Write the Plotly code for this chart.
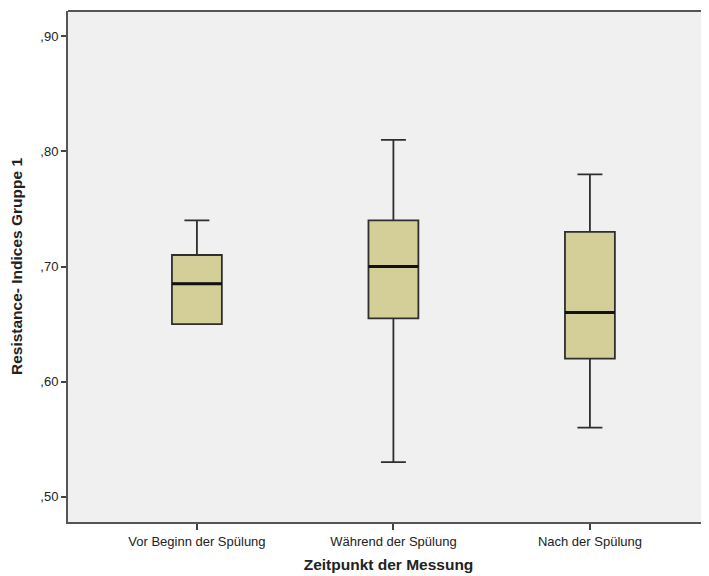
import plotly.graph_objects as go

categories = ["Vor Beginn der Spülung", "Während der Spülung", "Nach der Spülung"]
q1 = [0.65, 0.655, 0.62]
median = [0.685, 0.70, 0.66]
q3 = [0.71, 0.74, 0.73]
lower = [0.65, 0.53, 0.56]
upper = [0.74, 0.81, 0.78]
ytick_vals = [0.50, 0.60, 0.70, 0.80, 0.90]
ytick_text = [",50", ",60", ",70", ",80", ",90"]

xpos = list(range(len(categories)))
fig = go.Figure()
fig.add_trace(go.Box(
    x=xpos, q1=q1, median=median, q3=q3, lowerfence=lower, upperfence=upper,
    width=0.254, whiskerwidth=0.5,
    fillcolor="#d4cf99", line=dict(color="#2e2e2e", width=1.8),
    boxpoints=False, hoverinfo="skip", showlegend=False,
))
hw = 0.127
for i, m in enumerate(median):
    fig.add_trace(go.Scatter(
        x=[xpos[i] - hw, xpos[i] + hw], y=[m, m], mode="lines",
        line=dict(color="#111111", width=3), showlegend=False, hoverinfo="skip",
    ))

# top border of the plot frame
fig.add_shape(type="line", xref="paper", yref="paper", x0=0, x1=1, y0=1, y1=1,
              line=dict(color="#555555", width=2))

# page body has an 8px default margin, so the figure is sized to end at the window edge
fig.update_layout(
    width=701, height=568,
    margin=dict(l=60, r=0, t=3, b=54, autoexpand=False),
    paper_bgcolor="white", plot_bgcolor="#f0f0f0",
    font=dict(family="Liberation Sans, Arial, sans-serif", size=13, color="#222222"),
)
fig.update_xaxes(
    range=[-0.656, 2.606], tickvals=xpos, ticktext=categories,
    showline=True, linecolor="#555555", linewidth=2,
    ticks="outside", ticklen=6, tickwidth=1.5, tickcolor="#444444",
    showgrid=False, zeroline=False,
    title=dict(text="<b>Zeitpunkt der Messung</b>", font=dict(size=15.5, color="#222222"), standoff=12),
    tickfont=dict(size=13),
)
fig.update_yaxes(
    range=[0.478, 0.922], tickvals=ytick_vals, ticktext=ytick_text,
    showline=True, linecolor="#555555", linewidth=2,
    ticks="outside", ticklen=5, tickwidth=1.5, tickcolor="#444444",
    showgrid=False, zeroline=False,
    title=dict(text="<b>Resistance- Indices Gruppe 1</b>", font=dict(size=15.5, color="#222222"), standoff=14),
    tickfont=dict(size=13),
)
fig.write_html("out.html")
